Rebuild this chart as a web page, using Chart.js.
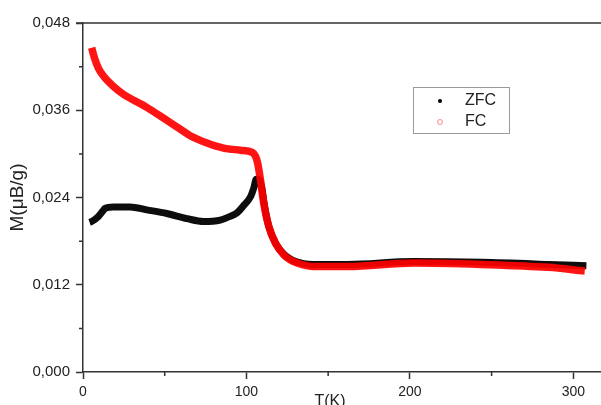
<!DOCTYPE html>
<html>
<head>
<meta charset="utf-8">
<script src="https://cdn.jsdelivr.net/npm/chart.js@4"></script>
<style>
  html, body { margin: 0; padding: 0; background: #fff; overflow: hidden; }
  #wrap { width: 601px; height: 405px; overflow: hidden; }
</style>
</head>
<body>
<div id="wrap">
  <canvas id="chart" width="612" height="420"></canvas>
</div>
<script>
// ZFC (black)
const zfcT = [4, 5.3, 9.4, 12, 13.5, 18.6, 28.8, 39, 51.3, 63.6, 73.8, 84, 90, 94.3, 98.3, 102.5, 104.5, 106, 108, 109.5, 110.8, 113.7, 117.8, 122.9, 128, 135, 141, 162, 202, 244, 285, 308];
const zfcM = [0.0206, 0.0207, 0.0214, 0.0221, 0.0225, 0.0227, 0.0227, 0.0223, 0.0218, 0.0211, 0.0207, 0.0209, 0.0214, 0.0219, 0.0229, 0.0241, 0.0253, 0.0265, 0.0264, 0.0252, 0.0232, 0.0200, 0.0177, 0.0162, 0.0154, 0.0149, 0.0148, 0.0148, 0.0152, 0.0151, 0.0148, 0.0146];

// FC (red)
const fcT = [5.3, 7, 9.4, 12.5, 18, 24.7, 39, 50, 59.5, 65.6, 75.9, 86, 96.3, 103.5, 105.5, 106.8, 108.6, 110.6, 113.7, 117.8, 122.9, 127, 131, 141, 162, 202.6, 243.6, 284.5, 307];
const fcM = [0.0446, 0.0432, 0.0418, 0.0407, 0.0394, 0.0382, 0.0364, 0.0348, 0.0334, 0.0325, 0.0315, 0.0308, 0.0305, 0.0302, 0.0297, 0.0288, 0.0264, 0.0232, 0.0200, 0.0177, 0.0161, 0.0154, 0.0150, 0.0145, 0.0145, 0.0150, 0.0148, 0.0144, 0.0139];

const xMinor = [50, 150, 250];
const yMinor = [0.006, 0.018, 0.030, 0.042];
const seriesNames = ["ZFC", "FC"];

const axisColor = "#333";
const fontFamily = "'Liberation Sans', Arial, sans-serif";

function toPoints(xs, ys) {
  return xs.map((x, i) => ({ x: x, y: ys[i] }));
}

// minor ticks, top frame line, x title and the boxed legend
const extras = {
  id: "extras",
  afterDraw(chart) {
    const ctx = chart.ctx;
    const area = chart.chartArea;
    const xs = chart.scales.x;
    const ys = chart.scales.y;
    ctx.save();
    ctx.strokeStyle = axisColor;
    ctx.lineWidth = 1.5;
    ctx.beginPath();
    xMinor.forEach(v => {
      const px = xs.getPixelForValue(v);
      ctx.moveTo(px, area.bottom);
      ctx.lineTo(px, area.bottom + 4);
    });
    yMinor.forEach(v => {
      const py = ys.getPixelForValue(v);
      ctx.moveTo(area.left - 4, py);
      ctx.lineTo(area.left, py);
    });
    // top frame
    ctx.moveTo(area.left - 7, area.top);
    ctx.lineTo(area.right, area.top);
    ctx.stroke();

    // x title (sits off-centre in the reference)
    ctx.fillStyle = "#222";
    ctx.font = "16px " + fontFamily;
    ctx.textAlign = "center";
    ctx.textBaseline = "middle";
    ctx.fillText("T(K)", 330, 402);

    // legend box
    ctx.strokeStyle = "#999";
    ctx.lineWidth = 1;
    ctx.strokeRect(413.5, 87.5, 96, 46);
    ctx.fillStyle = "#000";
    ctx.beginPath();
    ctx.arc(440, 101, 2, 0, Math.PI * 2);
    ctx.fill();
    ctx.strokeStyle = "rgba(255,60,60,0.6)";
    ctx.beginPath();
    ctx.arc(440, 122, 2.5, 0, Math.PI * 2);
    ctx.stroke();
    ctx.fillStyle = "#222";
    ctx.font = "16px " + fontFamily;
    ctx.textAlign = "left";
    ctx.fillText(seriesNames[0], 465, 101);
    ctx.fillText(seriesNames[1], 465, 122);
    ctx.restore();
  }
};

new Chart(document.getElementById("chart").getContext("2d"), {
  type: "line",
  data: {
    datasets: [
      {
        label: seriesNames[0],
        data: toPoints(zfcT, zfcM),
        borderColor: "rgba(0,0,0,0.95)",
        borderWidth: 7,
        pointRadius: 0,
        cubicInterpolationMode: "monotone",
        order: 2
      },
      {
        label: seriesNames[1],
        data: toPoints(fcT, fcM),
        borderColor: "rgba(255,0,0,0.92)",
        borderWidth: 7.5,
        pointRadius: 0,
        cubicInterpolationMode: "monotone",
        order: 1
      }
    ]
  },
  options: {
    responsive: false,
    animation: false,
    layout: { padding: { top: 23, right: 6, left: 0, bottom: 0 } },
    plugins: {
      legend: { display: false },
      tooltip: { enabled: false }
    },
    scales: {
      x: {
        type: "linear",
        min: 0,
        max: 320,
        border: { display: true, color: axisColor, width: 1.5 },
        grid: { drawOnChartArea: false, drawTicks: true, tickLength: 7, color: axisColor, tickWidth: 1.5 },
        ticks: { stepSize: 100, includeBounds: false, padding: 5, color: "#222", font: { family: fontFamily, size: 14 }, maxRotation: 0 },
        afterFit(scale) { scale.height = 48; }
      },
      y: {
        min: 0,
        max: 0.048,
        border: { display: true, color: axisColor, width: 1.5 },
        grid: { drawOnChartArea: false, drawTicks: true, tickLength: 7, color: axisColor, tickWidth: 1.5 },
        ticks: {
          stepSize: 0.012,
          padding: 6,
          color: "#222",
          font: { family: fontFamily, size: 15 },
          callback: v => v.toFixed(3).replace(".", ",")
        },
        title: {
          display: true,
          text: "M(\u03bcB/g)",
          color: "#222",
          font: { family: fontFamily, size: 19 },
          padding: { top: 6, bottom: 0 }
        },
        afterFit(scale) { scale.width = 83; }
      }
    }
  },
  plugins: [extras]
});
</script>
</body>
</html>
